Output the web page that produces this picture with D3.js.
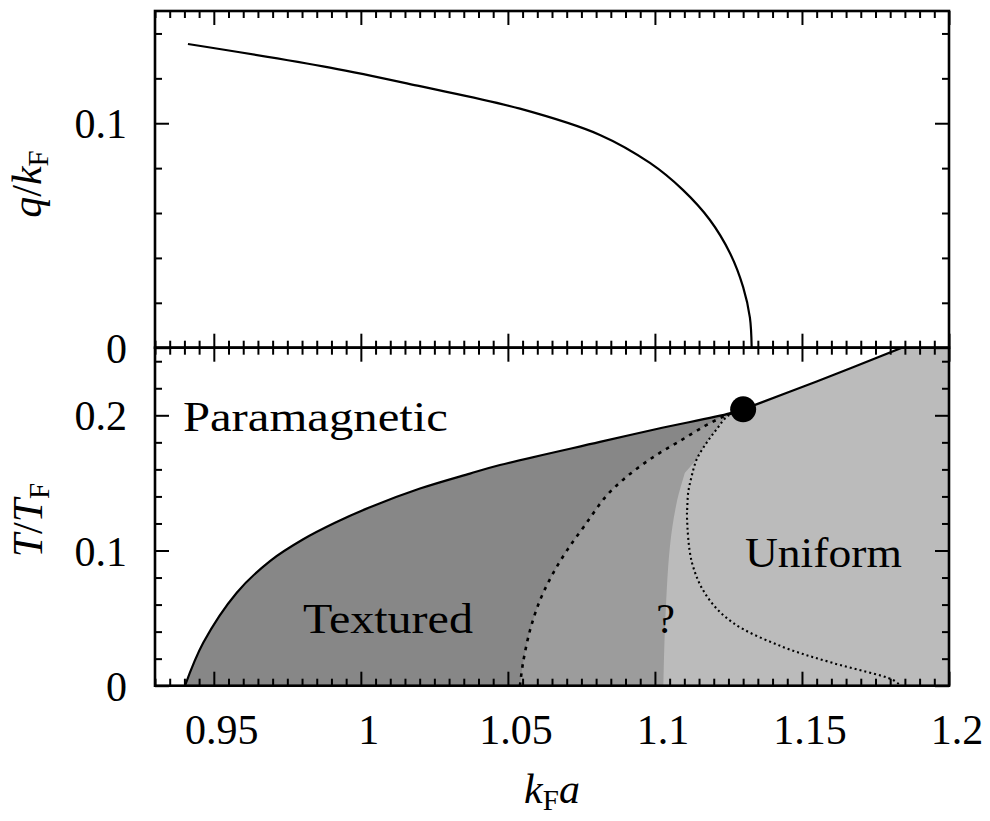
<!DOCTYPE html>
<html><head><meta charset="utf-8">
<script src="https://cdn.jsdelivr.net/npm/d3@7"></script>
<style>html,body{margin:0;padding:0;background:#fff}</style>
</head><body>
<svg id="chart" width="990" height="821"></svg>
<script>
// ---------- data ----------
// upper panel: modulation wave vector q/kF vs kF a
const topK = [0.9412, 0.9895, 1.0201, 1.0541, 1.0813, 1.0983, 1.1095, 1.1187, 1.1255, 1.1300, 1.1323, 1.1329];
const topQ = [0.1353, 0.1248, 0.1165, 0.1065, 0.0948, 0.0823, 0.0703, 0.0569, 0.0422, 0.0270, 0.0134, 0];
// lower panel: paramagnetic boundary (low branch up to the critical point)
const boundK = [0.9402, 0.9464, 0.9578, 0.9691, 0.9804, 0.9912, 1.0031, 1.0201, 1.0371, 1.0473, 1.0813, 1.1006, 1.1255, 1.1300];
const boundT = [0, 0.0317, 0.0688, 0.0922, 0.1083, 0.1205, 0.1320, 0.1458, 0.1569, 0.1632, 0.1803, 0.1899, 0.2014, 0.2044];
// high branch beyond the critical point
const highK = [1.13, 1.155, 1.184];
const highT = [0.2044, 0.225, 0.25];
// textured boundary (dashed)
const texK = [1.0541, 1.0551, 1.0575, 1.0609, 1.0650, 1.0701, 1.0762, 1.0837, 1.0915, 1.1000, 1.1085, 1.1170, 1.1238, 1.1300];
const texT = [0, 0.0163, 0.0408, 0.0631, 0.0816, 0.1001, 0.1187, 0.1409, 0.1565, 0.1699, 0.1810, 0.1921, 0.1996, 0.2044];
// uniform boundary (dotted)
const uniK = [1.13, 1.1248, 1.121, 1.1176, 1.1142, 1.1125, 1.1113, 1.111, 1.1109, 1.1126, 1.1177, 1.1265, 1.1435, 1.1605, 1.181, 1.1835];
const uniT = [0.2044, 0.1996, 0.1897, 0.1798, 0.1674, 0.155, 0.1427, 0.1316, 0.125, 0.091, 0.066, 0.0466, 0.0287, 0.0168, 0.0042, 0];
// edge of the "?" region
const qK = [1.1029, 1.1034, 1.1051, 1.1074, 1.1102, 1.1142];
const qT = [0, 0.0413, 0.103, 0.1353, 0.1576, 0.1674];
// critical point
const critK = [1.13];
const critT = [0.2044];
// ticks
const xMajor = [0.95, 1, 1.05, 1.1, 1.15, 1.2];
const xMajorLabels = ["0.95", "1", "1.05", "1.1", "1.15", "1.2"];
const xMinor = d3.range(186, 241).map(i => i * 0.005).filter(v => !xMajor.some(m => Math.abs(m - v) < 1e-9));
const yTopMajor = [0, 0.1];
const yTopMajorLabels = ["0", "0.1"];
const yTopMinor = [0.02, 0.04, 0.06, 0.08, 0.12, 0.14];
const yBotMajor = [0, 0.1, 0.2];
const yBotMajorLabels = ["0", "0.1", "0.2"];
const yBotMinor = [0.02, 0.04, 0.06, 0.08, 0.12, 0.14, 0.16, 0.18, 0.22, 0.24];
// region labels
const regionNames = ["Paramagnetic", "Textured", "Uniform", "?"];
const regionK = [0.9395, 0.9803, 1.1306, 1.1036];
const regionT = [0.1882, 0.0391, 0.0881, 0.0391];

// ---------- layout ----------
const L = 155, R = 949, T0 = 11, MID = 347.7, B = 685.7;
const FONT = '"Liberation Serif", "DejaVu Serif", serif';
const svg = d3.select("#chart");
const x = d3.scaleLinear().domain([0.93, 1.2]).range([L, R]);
const yTop = d3.scaleLinear().domain([0, 0.15]).range([MID, T0]);
const yBot = d3.scaleLinear().domain([0, 0.25]).range([B, MID]);

const pts = (ks, ts) => ks.map((k, i) => [k, ts[i]]);
const lineBot = d3.line().x(d => x(d[0])).y(d => yBot(d[1])).curve(d3.curveCatmullRom.alpha(0.5));
const lineTop = d3.line().x(d => x(d[0])).y(d => yTop(d[1])).curve(d3.curveCatmullRom.alpha(0.5));
const segPoly = (segs) => segs.map((s, i) => {
  const p = s.length > 1 ? lineBot(s) : `M${x(s[0][0])},${yBot(s[0][1])}`;
  return i === 0 ? p : p.replace(/^M/, "L");
}).join("") + "Z";

const low = pts(boundK, boundT);
const high = pts(highK, highT);
const tex = pts(texK, texT);
const uni = pts(uniK, uniT);
const qb = pts(qK, qT);

const defs = svg.append("defs");
defs.append("clipPath").attr("id", "clipBot").append("rect")
  .attr("x", L).attr("y", MID).attr("width", R - L).attr("height", B - MID);
defs.append("clipPath").attr("id", "clipTop").append("rect")
  .attr("x", L).attr("y", T0).attr("width", R - L).attr("height", MID - T0);

const gFill = svg.append("g").attr("clip-path", "url(#clipBot)");
// light (uniform) region
gFill.append("path").attr("fill", "#bbbbbb")
  .attr("d", segPoly([low, high, [[1.2, 0.26]], [[1.2, 0]]]));
// middle ("?") region
gFill.append("path").attr("fill", "#9c9c9c")
  .attr("d", segPoly([low, uni.slice(0, 5), qb.slice(0, 5).reverse()]));
// dark (textured) region
gFill.append("path").attr("fill", "#878787")
  .attr("d", segPoly([low, tex.slice().reverse()]));

// lines in lower panel
const gLines = svg.append("g").attr("clip-path", "url(#clipBot)").attr("fill", "none");
gLines.append("path").attr("d", lineBot(tex)).attr("stroke", "#000").attr("stroke-width", 2.6)
  .attr("stroke-dasharray", "3.5,5.5");
gLines.append("path").attr("d", lineBot(uni)).attr("stroke", "#000").attr("stroke-width", 2.1)
  .attr("stroke-dasharray", "2,3");
gLines.append("path").attr("d", lineBot(low)).attr("stroke", "#000").attr("stroke-width", 2.2);
gLines.append("path").attr("d", lineBot(high)).attr("stroke", "#000").attr("stroke-width", 2.2);
svg.append("g").selectAll("circle").data(critK).join("circle")
  .attr("cx", (d) => x(d)).attr("cy", (d, i) => yBot(critT[i])).attr("r", 13).attr("fill", "#000");

// upper panel curve
svg.append("path").attr("clip-path", "url(#clipTop)").attr("fill", "none")
  .attr("stroke", "#000").attr("stroke-width", 2.2).attr("d", lineTop(pts(topK, topQ)));

// ---------- ticks (d3 axes, inward) ----------
function ticks(axisFn, scale, vals, size, tx, ty) {
  const g = svg.append("g").attr("transform", `translate(${tx},${ty})`)
    .call(axisFn(scale).tickValues(vals).tickSize(-size).tickFormat(""));
  g.select(".domain").remove();
  g.selectAll(".tick line").attr("stroke", "#000").attr("stroke-width", 2);
}
const MAJ = 14, MIN = 7;
// top panel
ticks(d3.axisTop, x, xMajor, MAJ, 0, T0); ticks(d3.axisTop, x, xMinor, MIN, 0, T0);
ticks(d3.axisBottom, x, xMajor, MAJ, 0, MID); ticks(d3.axisBottom, x, xMinor, MIN, 0, MID);
ticks(d3.axisLeft, yTop, yTopMajor, MAJ, L, 0); ticks(d3.axisLeft, yTop, yTopMinor, MIN, L, 0);
ticks(d3.axisRight, yTop, yTopMajor, MAJ, R, 0); ticks(d3.axisRight, yTop, yTopMinor, MIN, R, 0);
// bottom panel
ticks(d3.axisTop, x, xMajor, MAJ, 0, MID); ticks(d3.axisTop, x, xMinor, MIN, 0, MID);
ticks(d3.axisBottom, x, xMajor, MAJ, 0, B); ticks(d3.axisBottom, x, xMinor, MIN, 0, B);
ticks(d3.axisLeft, yBot, yBotMajor, MAJ, L, 0); ticks(d3.axisLeft, yBot, yBotMinor, MIN, L, 0);
ticks(d3.axisRight, yBot, yBotMajor, MAJ, R, 0); ticks(d3.axisRight, yBot, yBotMinor, MIN, R, 0);

// frames
svg.append("rect").attr("x", L).attr("y", T0).attr("width", R - L).attr("height", MID - T0)
  .attr("fill", "none").attr("stroke", "#000").attr("stroke-width", 2.6);
svg.append("rect").attr("x", L).attr("y", MID).attr("width", R - L).attr("height", B - MID)
  .attr("fill", "none").attr("stroke", "#000").attr("stroke-width", 2.6);

// ---------- tick labels ----------
const txt = svg.append("g").attr("font-family", FONT).attr("font-size", 42).attr("fill", "#000");
txt.selectAll(".xl").data(xMajor).join("text").attr("class", "xl")
  .attr("x", d => x(d) + 8).attr("y", 744).attr("text-anchor", "middle")
  .text((d, i) => xMajorLabels[i]);
txt.selectAll(".ytl").data(yTopMajor).join("text").attr("class", "ytl")
  .attr("x", 127).attr("y", d => yTop(d) + 15).attr("text-anchor", "end")
  .text((d, i) => yTopMajorLabels[i]);
txt.selectAll(".ybl").data(yBotMajor).join("text").attr("class", "ybl")
  .attr("x", 127).attr("y", d => yBot(d) + 15).attr("text-anchor", "end")
  .text((d, i) => yBotMajorLabels[i]);

// region labels
const widths = [265, 170, 157, null];
regionNames.forEach((name, i) => {
  const t = txt.append("text").attr("x", x(regionK[i])).attr("y", yBot(regionT[i])).text(name);
  if (widths[i]) t.attr("textLength", widths[i]).attr("lengthAdjust", "spacingAndGlyphs");
  else t.attr("text-anchor", "middle");
});

// ---------- axis titles ----------
function mathTitle(g, parts) {
  parts.forEach(p => {
    const s = g.append("tspan").text(p.t);
    if (p.it) s.attr("font-style", "italic");
    if (p.sub) s.attr("font-size", 29).attr("dy", 7);
    if (p.up) s.attr("dy", -7);
  });
}
const tq = txt.append("text").attr("transform", "translate(41,184) rotate(-90)").attr("text-anchor", "middle");
mathTitle(tq, [{t: "q", it: true}, {t: "/"}, {t: "k", it: true}, {t: "F", sub: true}]);
const tt = txt.append("text").attr("transform", "translate(42,520) rotate(-90)").attr("text-anchor", "middle");
mathTitle(tt, [{t: "T", it: true}, {t: "/"}, {t: "T", it: true}, {t: "F", sub: true}]);
const tk = txt.append("text").attr("x", 552).attr("y", 803).attr("text-anchor", "middle");
mathTitle(tk, [{t: "k", it: true}, {t: "F", sub: true}, {t: "a", it: true, up: true}]);
</script>
</body></html>
